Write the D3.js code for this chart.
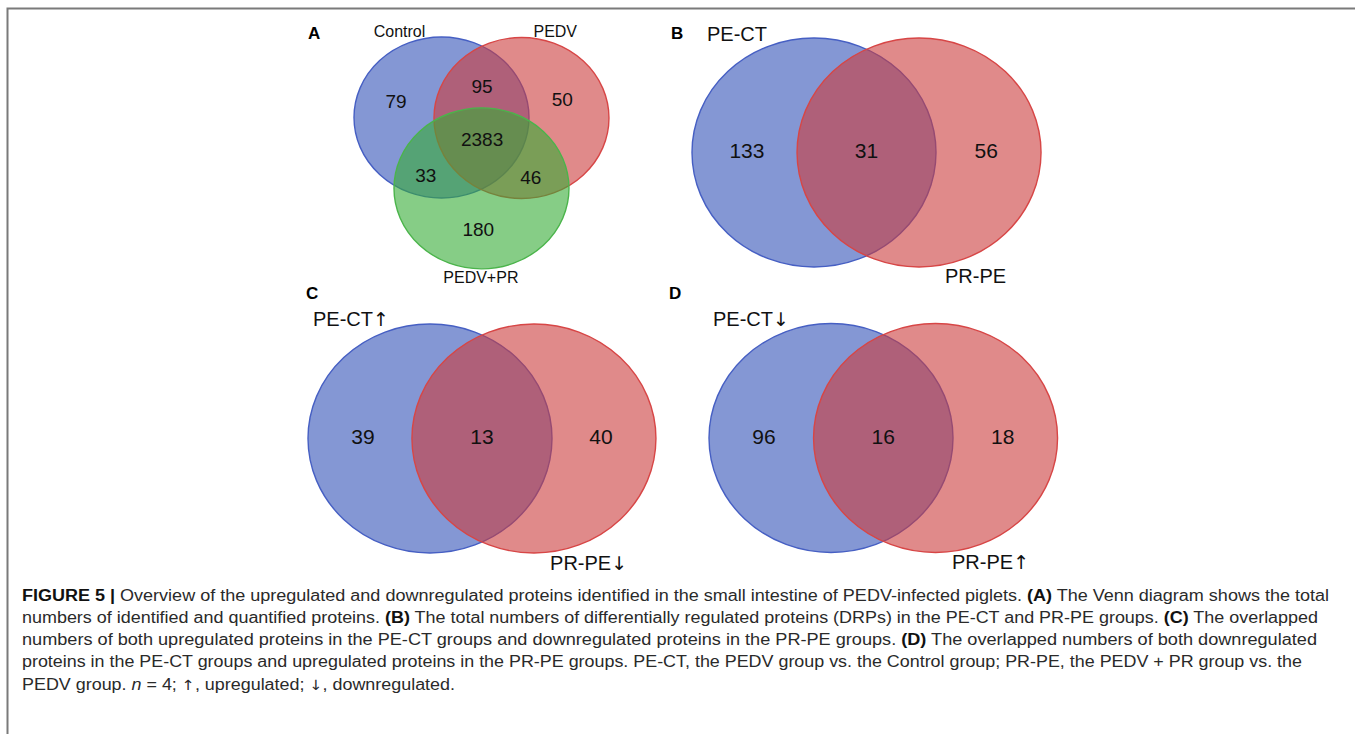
<!DOCTYPE html>
<html>
<head>
<meta charset="utf-8">
<script src="https://cdn.jsdelivr.net/npm/d3@7"></script>
<style>
  html, body { margin: 0; padding: 0; background: #fff; }
  svg { display: block; font-family: "Liberation Sans", Arial, Helvetica, sans-serif; }
</style>
</head>
<body>
<svg id="fig" width="1355" height="734"></svg>
<script>
// ---- Data ----------------------------------------------------------------
// Panel A: three-way Venn of identified / quantified proteins
const setsA = ["Control", "PEDV", "PEDV+PR"];
const regionsA = [
  { key: "Control only", value: 79 },
  { key: "Control∩PEDV", value: 95 },
  { key: "PEDV only", value: 50 },
  { key: "all", value: 2383 },
  { key: "Control∩PEDV+PR", value: 33 },
  { key: "PEDV∩PEDV+PR", value: 46 },
  { key: "PEDV+PR only", value: 180 }
];
// Panels B–D: two-way Venns of differentially regulated proteins
const setsB = ["PE-CT", "PR-PE"];
const valuesB = [133, 31, 56];
const setsC = ["PE-CT↑", "PR-PE↓"];
const valuesC = [39, 13, 40];
const setsD = ["PE-CT↓", "PR-PE↑"];
const valuesD = [96, 16, 18];

// ---- Styles --------------------------------------------------------------
const fills   = ["rgb(50,82,183)", "rgb(203,60,60)", "rgb(53,172,53)"];
const strokes = ["rgb(70,95,195)", "rgb(215,70,70)", "rgb(75,180,75)"];
const fillOpacity = 0.6;
const arrowFont = "DejaVu Sans";

const svg = d3.select("#fig");

// figure frame (top and left rules)
svg.append("path")
  .attr("d", "M7.5,1000 V8.5 H1355")
  .attr("fill", "none").attr("stroke", "#7a7a7a").attr("stroke-width", 2);

// write a string into a text node, setting arrow glyphs in a font that has them
function fillText(sel, str) {
  str.split(/([↑↓])/).filter(s => s.length).forEach(s => {
    const sp = sel.append("tspan").text(s);
    if (s === "↑" || s === "↓") sp.attr("font-family", arrowFont).attr("font-size", "0.95em");
  });
}

// Each panel works in unit space: circle radii are 1, centres are offsets.
function panel(cfg) {
  const x = d3.scaleLinear().domain([0, 1]).range([cfg.cx, cfg.cx + cfg.rx]);
  const y = d3.scaleLinear().domain([0, 1]).range([cfg.cy, cfg.cy + cfg.ry]);
  const g = svg.append("g");
  g.selectAll("ellipse").data(cfg.circles).join("ellipse")
    .attr("cx", d => x(d.ux)).attr("cy", d => y(d.uy))
    .attr("rx", x(1) - x(0)).attr("ry", y(1) - y(0))
    .attr("fill", (d, i) => fills[i]).attr("fill-opacity", fillOpacity)
    .attr("stroke", (d, i) => strokes[i]).attr("stroke-width", 1.4);
  g.selectAll("text.num").data(cfg.values).join("text")
    .attr("class", "num")
    .attr("x", (d, i) => x(cfg.numPos[i][0])).attr("y", (d, i) => y(cfg.numPos[i][1]))
    .attr("text-anchor", "middle").attr("font-size", cfg.numSize)
    .attr("fill", "#111").text(d => d);
  g.selectAll("text.set").data(cfg.sets).join("text")
    .attr("class", "set")
    .attr("x", (d, i) => x(cfg.labelPos[i][0])).attr("y", (d, i) => y(cfg.labelPos[i][1]))
    .attr("text-anchor", cfg.labelAnchor).attr("font-size", cfg.labelSize)
    .attr("fill", "#111")
    .each(function (d) { fillText(d3.select(this), d); });
  g.append("text")
    .attr("x", cfg.letter[1]).attr("y", cfg.letter[2])
    .attr("font-size", 17).attr("font-weight", "bold").text(cfg.letter[0]);
}

panel({
  cx: 441.5, cy: 117.5, rx: 87.5, ry: 80.5,
  circles: [{ ux: 0, uy: 0 }, { ux: 0.914, uy: 0.006 }, { ux: 0.457, uy: 0.88 }],
  values: regionsA.map(d => d.value),
  numPos: [[-0.52, -0.12], [0.464, -0.31], [1.38, -0.14], [0.464, 0.35],
           [-0.18, 0.80], [1.02, 0.82], [0.42, 1.47]],
  numSize: 19,
  sets: setsA,
  labelPos: [[-0.48, -1.0], [1.30, -1.0], [0.45, 2.06]],
  labelAnchor: "middle", labelSize: 16,
  letter: ["A", 308, 39]
});

const twoWay = (cx, cy, dx, sets, values, labelPos, letter) => panel({
  cx, cy, rx: 122, ry: 114.5,
  circles: [{ ux: 0, uy: 0 }, { ux: dx, uy: 0 }],
  values,
  numPos: [[-0.55, 0.05], [dx / 2, 0.05], [dx + 0.55, 0.05]],
  numSize: 21,
  sets, labelPos, labelAnchor: "start", labelSize: 20,
  letter
});

twoWay(814, 152.5, 0.861, setsB, valuesB, [[-0.877, -0.975], [1.074, 1.14]], ["B", 671, 39]);
twoWay(430, 438.5, 0.852, setsC, valuesC, [[-0.959, -0.98], [0.984, 1.15]], ["C", 306, 299]);
twoWay(831, 438, 0.857, setsD, valuesD, [[-0.967, -0.98], [0.992, 1.14]], ["D", 669, 299]);

// ---- Caption -------------------------------------------------------------
const captionLines = [
  { w: 1307, parts: [["FIGURE 5 | ", "b"], ["Overview of the upregulated and downregulated proteins identified in the small intestine of PEDV-infected piglets. "], ["(A)", "b"], [" The Venn diagram shows the total"]] },
  { w: 1296, parts: [["numbers of identified and quantified proteins. "], ["(B)", "b"], [" The total numbers of differentially regulated proteins (DRPs) in the PE-CT and PR-PE groups. "], ["(C)", "b"], [" The overlapped"]] },
  { w: 1295, parts: [["numbers of both upregulated proteins in the PE-CT groups and downregulated proteins in the PR-PE groups. "], ["(D)", "b"], [" The overlapped numbers of both downregulated"]] },
  { w: 1280, parts: [["proteins in the PE-CT groups and upregulated proteins in the PR-PE groups. PE-CT, the PEDV group vs. the Control group; PR-PE, the PEDV + PR group vs. the"]] },
  { w: 433,  parts: [["PEDV group. "], ["n", "i"], [" = 4; "], ["↑", "a"], [", upregulated; "], ["↓", "a"], [", downregulated."]] }
];
const lineY = d3.scaleLinear().domain([0, 1]).range([600.5, 622.8]);
const cap = svg.append("g").attr("fill", "#2a2a2a").attr("font-size", 16);
captionLines.forEach((ln, i) => {
  const t = cap.append("text")
    .attr("x", 22).attr("y", lineY(i))
    .attr("textLength", ln.w).attr("lengthAdjust", "spacingAndGlyphs");
  ln.parts.forEach(([s, st]) => {
    const sp = t.append("tspan").text(s);
    if (st === "b") sp.attr("font-weight", "bold").attr("fill", "#111");
    if (st === "i") sp.attr("font-style", "italic");
    if (st === "a") sp.attr("font-family", arrowFont).attr("font-size", 14);
  });
});
</script>
</body>
</html>
